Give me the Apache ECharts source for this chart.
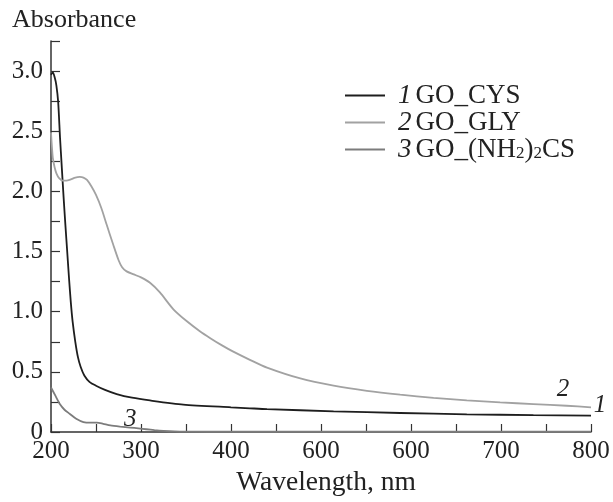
<!DOCTYPE html>
<html>
<head>
<meta charset="utf-8">
<script src="https://cdn.jsdelivr.net/npm/echarts@6/dist/echarts.min.js"></script>
<style>html,body{margin:0;padding:0;background:#fff}#c{width:613px;height:502px}</style>
</head>
<body>
<div id="c"></div>
<script>
// ---- data ----
var seriesNames = ['GO_CYS', 'GO_GLY', 'GO_(NH2)2CS'];
var seriesNumbers = ['1', '2', '3'];

var wl1 = [200,202,204,206,208,210,212,214,216,218,220,222,224,227,230,233,237,243,250,260,273,290,310,347,400,421,440,514,588,662,736,800];
var abs1 = [2.97,2.99,2.95,2.88,2.74,2.45,2.2,1.95,1.72,1.5,1.28,1.08,0.92,0.75,0.62,0.54,0.47,0.415,0.385,0.35,0.315,0.285,0.262,0.228,0.205,0.197,0.19,0.172,0.158,0.147,0.14,0.136];

var wl2 = [200,202,204,206,209,213,217,222,227,232,236,240,245,250,256,262,269,275,279,284,292,300,310,321,336,351,365,377,390,402,421,440,477,514,551,588,625,662,699,736,773,800];
var abs2 = [2.49,2.28,2.2,2.15,2.11,2.09,2.09,2.1,2.115,2.12,2.115,2.095,2.04,1.97,1.86,1.72,1.56,1.43,1.37,1.335,1.31,1.285,1.24,1.16,1.02,0.92,0.84,0.78,0.72,0.67,0.6,0.535,0.445,0.385,0.342,0.31,0.284,0.263,0.246,0.232,0.218,0.205];

var wl3 = [200,205,210,215,221,228,236,244,251,258,266,277,288,297,306,315,325,337,350,400,500,600,700,800];
var abs3 = [0.37,0.3,0.23,0.185,0.15,0.11,0.083,0.078,0.078,0.068,0.055,0.045,0.037,0.03,0.023,0.016,0.01,0.005,0.003,0.002,0.002,0.002,0.002,0.002];

// x tick labels as printed in the figure
var xLabelValues = [200, 300, 400, 500, 600, 700, 800];
var xLabelTexts = ['200', '300', '400', '600', '600', '700', '800'];
var yLabelValues = [0, 0.5, 1.0, 1.5, 2.0, 2.5, 3.0];
var yLabelTexts = ['0', '0.5', '1.0', '1.5', '2.0', '2.5', '3.0'];

// curve number annotations [wavelength, absorbance]
var curveLabelPos = [[800, 0.22], [769, 0.35], [288, 0.105]];
var curveLabelShift = [[9, 0], [0, 0], [0, 0]];

function zip(a, b) { return a.map(function (v, i) { return [v, b[i]]; }); }

var FONT = '"Liberation Serif", "Times New Roman", serif';
var colors = ['#1e1e1e', '#a2a2a2', '#7c7c7c'];
var allData = [zip(wl1, abs1), zip(wl2, abs2), zip(wl3, abs3)];

var legendFmt = {
  'GO_CYS': '{i|1}GO_CYS',
  'GO_GLY': '{i|2}GO_GLY',
  'GO_(NH2)2CS': '{i|3}GO_(NH{s|2}){s|2}CS'
};

var series = allData.map(function (d, k) {
  return {
    name: seriesNames[k],
    type: 'line',
    data: d,
    showSymbol: false,
    symbol: 'none',
    smooth: 0.25,
    clip: false,
    lineStyle: { color: colors[k], width: 1.8 },
    itemStyle: { color: colors[k] },
    markPoint: {
      symbol: 'circle',
      symbolSize: 0,
      data: [{ coord: curveLabelPos[k] }],
      label: {
        show: true, position: 'inside', offset: curveLabelShift[k], formatter: seriesNumbers[k],
        fontFamily: FONT, fontStyle: 'italic', fontSize: 25, color: '#222'
      }
    }
  };
});

var chart = echarts.init(document.getElementById('c'), null, { renderer: 'canvas' });
chart.setOption({
  animation: false,
  backgroundColor: '#fff',
  grid: { left: 51, right: 22, top: 41, bottom: 63, containLabel: false },
  legend: {
    orient: 'vertical',
    left: 340,
    top: 77,
    itemWidth: 40,
    itemHeight: 2,
    itemGap: 0,
    icon: 'rect',
    selectedMode: false,
    data: seriesNames,
    formatter: function (n) { return legendFmt[n]; },
    textStyle: {
      fontFamily: FONT, fontSize: 27, color: '#222', lineHeight: 25,
      rich: {
        i: { fontFamily: FONT, fontSize: 27, fontStyle: 'italic', color: '#222', lineHeight: 25, padding: [0, 4, 0, 8] },
        s: { fontFamily: FONT, fontSize: 17, color: '#222', lineHeight: 12, verticalAlign: 'bottom' }
      }
    }
  },
  xAxis: {
    type: 'value',
    min: 200, max: 800, interval: 50,
    name: 'Wavelength, nm',
    nameLocation: 'middle',
    nameGap: 37,
    nameTextStyle: { fontFamily: FONT, fontSize: 27.5, color: '#222', padding: [0, 0, 0, 10] },
    axisLine: { show: true, lineStyle: { color: '#333', width: 1.5 } },
    axisTick: { show: true, inside: true, length: 8, lineStyle: { color: '#333', width: 1.2 } },
    splitLine: { show: false },
    axisLabel: {
      margin: 7,
      fontFamily: FONT, fontSize: 25, color: '#222',
      formatter: function (v) {
        var i = xLabelValues.indexOf(Math.round(v));
        return i >= 0 ? xLabelTexts[i] : '';
      }
    }
  },
  yAxis: {
    type: 'value',
    min: 0, max: 3.25, interval: 0.25,
    axisLine: { show: true, lineStyle: { color: '#333', width: 1.5 } },
    axisTick: { show: true, inside: true, length: 9, lineStyle: { color: '#333', width: 1.2 } },
    splitLine: { show: false },
    axisLabel: {
      margin: 8,
      fontFamily: FONT, fontSize: 25, color: '#222',
      formatter: function (v) {
        for (var i = 0; i < yLabelValues.length; i++) {
          if (Math.abs(yLabelValues[i] - v) < 1e-6) return yLabelTexts[i];
        }
        return '';
      }
    }
  },
  graphic: [{
    type: 'text',
    left: 12,
    top: 7,
    style: { text: 'Absorbance', fontFamily: FONT, fontSize: 26, fill: '#222' }
  }],
  series: series
});
</script>
</body>
</html>
